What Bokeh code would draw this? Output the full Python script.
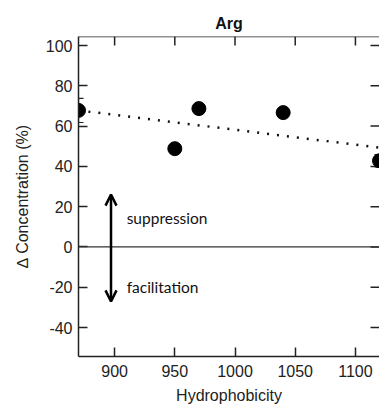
from bokeh.plotting import figure
from bokeh.models import (ColumnDataSource, Whisker, Arrow, OpenHead, Span, TeeHead,
                          Range1d, FixedTicker, Label)
from bokeh.embed import file_html
from bokeh.resources import INLINE

# ---- data ----
hydrophobicity = [870, 950, 970, 1040, 1120]
delta_conc = [67.8, 48.8, 68.7, 66.7, 42.8]
err = [6.0, 2.0, 2.0, 2.0, 3.0]
trend_x = [870, 1120]
trend_y = [67.8, 49.3]
x_ticks = [900, 950, 1000, 1050, 1100]
y_ticks = [-40, -20, 0, 20, 40, 60, 80, 100]

X0, X1 = 870, 1120
Y0, Y1 = -54.4, 104.5

FONT = "Liberation Sans"
AX = "#222222"
FS = "16px"

p = figure(width=379, height=407, output_backend="svg", toolbar_location=None,
           x_range=Range1d(X0, X1), y_range=Range1d(Y0, Y1),
           min_border_left=78, min_border_right=0, min_border_top=36,
           min_border_bottom=51, x_axis_label="Hydrophobicity",
           y_axis_label="\u2206 Concentration (%)")
p.outline_line_color = None
p.grid.visible = False
p.background_fill_color = "white"
p.border_fill_color = "white"

p.title.text = "Arg"
p.title.align = "center"
p.title.text_font = FONT
p.title.text_font_style = "bold"
p.title.text_font_size = FS
p.title.text_color = "#111111"
p.title.standoff = 9

for ax in (p.xaxis[0], p.yaxis[0]):
    ax.major_tick_in = 9
    ax.major_tick_out = 0
    ax.minor_tick_line_color = None
    ax.axis_line_color = AX
    ax.axis_line_width = 1.5
    ax.major_tick_line_color = AX
    ax.major_tick_line_width = 1.5
    ax.major_label_text_font = FONT
    ax.major_label_text_font_size = FS
    ax.major_label_text_color = "#222222"
    ax.axis_label_text_font = FONT
    ax.axis_label_text_font_size = FS
    ax.axis_label_text_font_style = "normal"
    ax.axis_label_text_color = "#222222"

p.xaxis[0].ticker = FixedTicker(ticks=x_ticks)
p.yaxis[0].ticker = FixedTicker(ticks=y_ticks)
p.yaxis[0].major_label_overrides = {t: str(t) for t in y_ticks}
p.xaxis[0].major_label_standoff = 8
p.xaxis[0].axis_label_standoff = 7
p.yaxis[0].major_label_standoff = 6
p.yaxis[0].axis_label_standoff = 12

# top frame line and mirrored inward ticks on top / right
p.add_layout(Span(location=Y1, dimension="width", line_color=AX, line_width=1.5))
tick_dx = 9 / (301 / (X1 - X0))
tick_dy = 9 / (320 / (Y1 - Y0))
p.segment(x0=x_ticks, y0=[Y1] * len(x_ticks), x1=x_ticks, y1=[Y1 - tick_dy] * len(x_ticks),
          line_color=AX, line_width=1.5)
p.segment(x0=[X1] * len(y_ticks), y0=y_ticks, x1=[X1 - tick_dx] * len(y_ticks), y1=y_ticks,
          line_color=AX, line_width=1.5)

# zero line
p.add_layout(Span(location=0, dimension="width", line_color="#333333", line_width=1.2))

# trend line
p.line(trend_x, trend_y, line_color="#111111", line_width=2.5, line_dash="2 8")

src = ColumnDataSource(data=dict(
    x=hydrophobicity, y=delta_conc,
    lo=[v - e for v, e in zip(delta_conc, err)],
    hi=[v + e for v, e in zip(delta_conc, err)]))
p.add_layout(Whisker(source=src, base="x", lower="lo", upper="hi",
                     line_color="#222222", line_width=1.2,
                     upper_head=TeeHead(size=10, line_color="#222222", line_width=1.2),
                     lower_head=TeeHead(size=10, line_color="#222222", line_width=1.2)))
p.scatter("x", "y", source=src, size=14, fill_color="black", line_color="black")

# arrows and annotations
arrow_x = 897
p.add_layout(Arrow(x_start=arrow_x, y_start=0, x_end=arrow_x, y_end=26,
                   line_width=2.5, line_color="black",
                   end=OpenHead(size=11, line_width=2.5, line_color="black")))
p.add_layout(Arrow(x_start=arrow_x, y_start=0, x_end=arrow_x, y_end=-27,
                   line_width=2.5, line_color="black",
                   end=OpenHead(size=11, line_width=2.5, line_color="black")))
p.add_layout(Label(x=910, y=14.4, text="suppression", text_font="Lato",
                   text_font_size="15.5px", text_baseline="middle", text_color="#111111"))
p.add_layout(Label(x=910, y=-20, text="facilitation", text_font="Lato",
                   text_font_size="15.5px", text_baseline="middle", text_color="#111111"))

open("out.html", "w").write(file_html(p, INLINE))
